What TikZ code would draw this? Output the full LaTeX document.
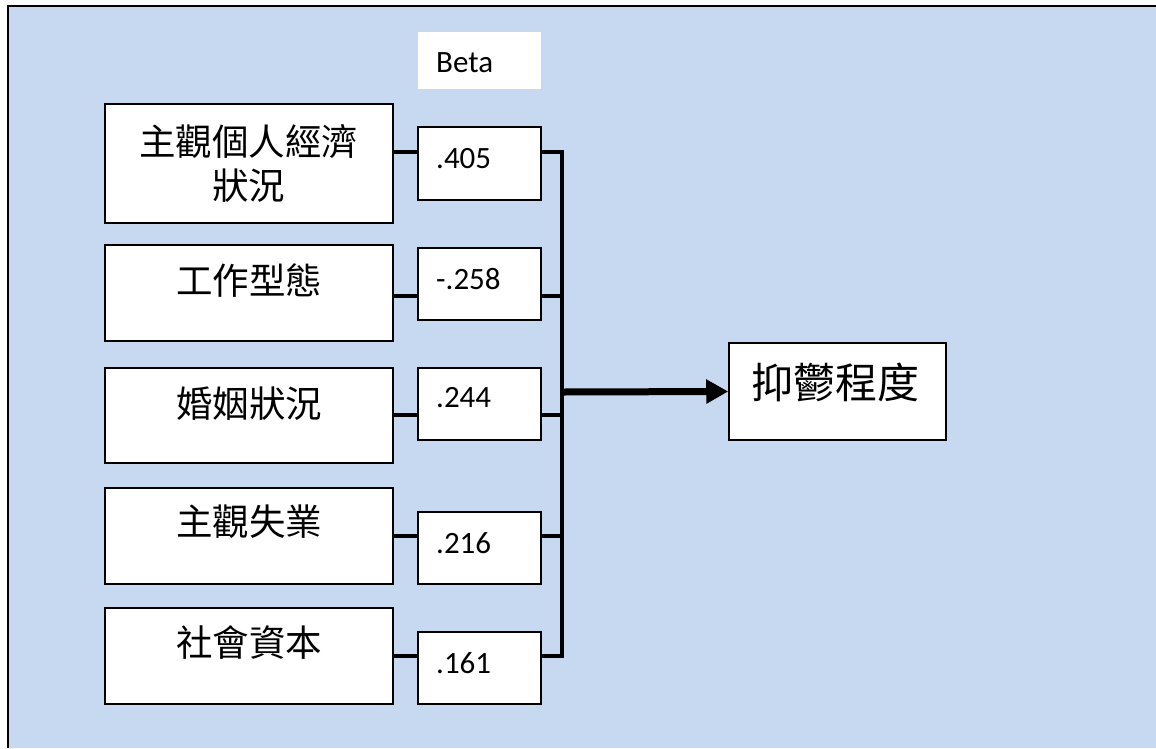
\documentclass[tikz,border=0pt]{standalone}
\usepackage{fontspec}
\setmainfont{Carlito}
\newfontfamily\cjk{Noto Sans CJK TC}
\usetikzlibrary{arrows.meta}
\definecolor{bgblue}{RGB}{198,217,240}
\begin{document}
\begin{tikzpicture}[x=1pt,y=-1pt,
  box/.style={draw, fill=white, line width=1.5pt, inner sep=0pt},
  lbl/.style={font=\cjk\fontsize{36.5}{44}\selectfont, inner sep=0pt, align=center},
  num/.style={font=\fontsize{31}{36}\selectfont, inner sep=0pt, anchor=west},
  conn/.style={line width=4pt},
  bbox/.style={box, minimum width=123, minimum height=72},
  vbox/.style={box, minimum width=288, minimum height=96},
]
\useasboundingbox (0,0) rectangle (1156,748);
\fill[bgblue] (8,6) rectangle (1156,748);
\draw[line width=2.5pt] (8,748) -- (8,6) -- (1156,6);

% Beta header
\node[fill=white, inner sep=0pt, minimum width=123, minimum height=57] (beta) at (479.5,60.5) {};
\node[num] (tbeta) at (436,62.5) {Beta};

% predictor boxes
\node[vbox, minimum height=119] (v1) at (249,163.5) {};
\node[vbox] (v2) at (249,293) {};
\node[vbox, minimum height=95] (v3) at (249,415.5) {};
\node[vbox] (v4) at (249,536) {};
\node[vbox] (v5) at (249,656) {};

\node[lbl] (t1) at (248.5,164) {主觀個人經濟\\狀況};
\node[lbl] (t2) at (249,281) {工作型態};
\node[lbl] (t3) at (249,404) {婚姻狀況};
\node[lbl] (t4) at (249,522) {主觀失業};
\node[lbl] (t5) at (249,643) {社會資本};

% beta value boxes
\node[bbox, minimum height=73] (b1) at (479.5,163.5) {};
\node[bbox] (b2) at (479.5,284) {};
\node[bbox] (b3) at (479.5,404) {};
\node[bbox] (b4) at (479.5,548) {};
\node[bbox] (b5) at (479.5,668) {};

\node[num] (n1) at (436,159) {.405};
\node[num] (n2) at (436,279) {-.258};
\node[num] (n3) at (436,398) {.244};
\node[num] (n4) at (436,543) {.216};
\node[num] (n5) at (436,663) {.161};

% outcome box
\node[box, minimum width=217, minimum height=97] (out) at (837.5,391.5) {};
\node[font=\cjk\fontsize{42}{48}\selectfont, inner sep=0pt] (tout) at (835,382) {抑鬱程度};

% connector levels
\coordinate (c1) at (562,152);
\coordinate (c2) at (562,296);
\coordinate (c3) at (562,415);
\coordinate (c4) at (562,536);
\coordinate (c5) at (562,656);
\coordinate (cm) at (562,392);

\draw[conn] (v1.east |- c1) -- (b1.west |- c1);
\draw[conn] (v2.east |- c2) -- (b2.west |- c2);
\draw[conn] (v3.east |- c3) -- (b3.west |- c3);
\draw[conn] (v4.east |- c4) -- (b4.west |- c4);
\draw[conn] (v5.east |- c5) -- (b5.west |- c5);

\draw[conn] (b1.east |- c1) -- (c1) -- (c5) -- (b5.east |- c5);
\draw[conn] (b2.east |- c2) -- (c2);
\draw[conn] (b3.east |- c3) -- (c3);
\draw[conn] (b4.east |- c4) -- (c4);

\draw[line width=7pt, -{Triangle[length=22pt,width=23pt]}] (cm) -- (out.west);
\end{tikzpicture}
\end{document}
